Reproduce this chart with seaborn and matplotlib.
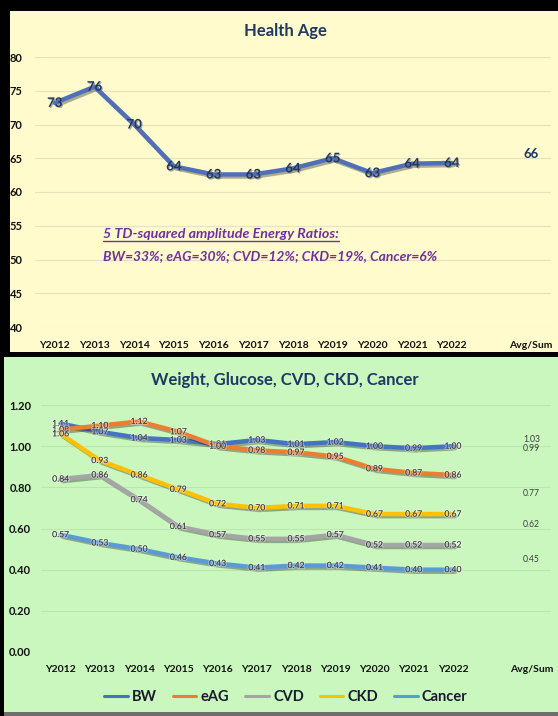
import matplotlib
matplotlib.use("Agg")
import matplotlib.pyplot as plt
import matplotlib.patheffects as pe
from matplotlib.patches import Rectangle
from matplotlib.lines import Line2D
import numpy as np
import pandas as pd
import seaborn as sns

# ---- data -------------------------------------------------------------
years = ["Y2012", "Y2013", "Y2014", "Y2015", "Y2016", "Y2017",
         "Y2018", "Y2019", "Y2020", "Y2021", "Y2022"]
tick_labels = years + ["", "Avg/Sum"]

health_age = [73.2, 75.6, 70.0, 63.8, 62.6, 62.6, 63.5, 65.0, 62.8, 64.2, 64.3]
health_avg = 65.7

bw = [1.11, 1.07, 1.04, 1.03, 1.01, 1.03, 1.01, 1.02, 1.00, 0.99, 1.00]
eag = [1.08, 1.10, 1.12, 1.07, 1.00, 0.98, 0.97, 0.95, 0.89, 0.87, 0.86]
cvd = [0.84, 0.86, 0.74, 0.61, 0.57, 0.55, 0.55, 0.57, 0.52, 0.52, 0.52]
ckd = [1.06, 0.93, 0.86, 0.79, 0.72, 0.70, 0.71, 0.71, 0.67, 0.67, 0.67]
cancer = [0.57, 0.53, 0.50, 0.46, 0.43, 0.41, 0.42, 0.42, 0.41, 0.40, 0.40]

series_names = ["BW", "eAG", "CVD", "CKD", "Cancer"]
series_avgs = [1.03, 0.99, 0.62, 0.77, 0.45]
series_colors = ["#4472C4", "#ED7D31", "#A5A5A5", "#FFC000", "#5B9BD5"]

# ---- style ------------------------------------------------------------
sns.set_theme(style="white")
FONT = ["Lato", "DejaVu Sans"]
plt.rcParams["font.family"] = FONT

W, H = 558, 716
fig = plt.figure(figsize=(W / 100, H / 100), dpi=100, facecolor="black")


def fx(px):
    return px / W


def fy(py):
    return 1 - py / H


def add_panel(x0, y0, x1, y1, color):
    fig.add_artist(Rectangle((fx(x0), fy(y1)), fx(x1) - fx(x0), fy(y0) - fy(y1),
                             transform=fig.transFigure, facecolor=color,
                             edgecolor="none", zorder=0))


def axes_box(left, top, right, bottom):
    return [fx(left), fy(bottom), fx(right) - fx(left), fy(top) - fy(bottom)]


# background panels
add_panel(10, 11, 558, 352, "#FFFBCC")
add_panel(4, 357, 558, 712, "#C9F7BE")
add_panel(4, 712, 558, 716, "#6E6E6E")

NAVY = "#1F3864"
line_shadow = [pe.SimpleLineShadow(offset=(1.5, -1.5), shadow_color="k", alpha=0.35),
               pe.Normal()]


def style_axes(ax, ylim, yticks, yfmt, grid_color):
    ax.set_facecolor("none")
    ax.set_xlim(-0.5, 12.5)
    ax.set_ylim(*ylim)
    ax.set_yticks(yticks)
    ax.set_yticklabels([yfmt.format(v) for v in yticks])
    ax.set_xticks(range(len(tick_labels)))
    ax.set_xticklabels(tick_labels)
    ax.set_xlabel("")
    ax.set_ylabel("")
    for s in ax.spines.values():
        s.set_visible(False)
    ax.grid(axis="y", color=grid_color, linewidth=0.8)
    ax.grid(axis="x", visible=False)
    ax.tick_params(axis="both", length=0, colors="#111111")
    for lab in ax.get_xticklabels():
        lab.set_fontweight("bold")
        lab.set_fontsize(7.5)
    for lab in ax.get_yticklabels():
        lab.set_fontweight("bold")
        lab.set_fontsize(8)


# ---- top: Health Age --------------------------------------------------
ax1 = fig.add_axes(axes_box(35, 57, 551, 327))
df_age = pd.DataFrame({"pos": range(len(years)), "age": health_age})
sns.lineplot(data=df_age, x="pos", y="age", ax=ax1, color="#4F6FB8",
             linewidth=3.2, path_effects=line_shadow, zorder=3)
style_axes(ax1, (40, 80), list(range(40, 81, 5)), "{:.0f}", "#E6E2BE")
ax1.tick_params(axis="x", pad=10)
ax1.tick_params(axis="y", pad=9)

txt_shadow = [pe.withSimplePatchShadow(offset=(0.8, -0.8), shadow_rgbFace="#777777", alpha=0.6)]
for i, v in enumerate(health_age):
    ax1.text(i, v, f"{v:.0f}", ha="center", va="center", fontsize=9.5,
             fontweight="bold", color=NAVY, zorder=5, path_effects=txt_shadow)
ax1.text(12, health_avg, f"{health_avg:.0f}", ha="center", va="center",
         fontsize=9.5, fontweight="bold", color=NAVY, zorder=5)

fig.text(fx(285), fy(31), "Health Age", ha="center", va="center",
         fontsize=12, fontweight="bold", color=NAVY)

PURPLE = "#7030A0"
note1 = fig.text(fx(103), fy(234), "5 TD-squared amplitude Energy Ratios:",
                 ha="left", va="center", fontsize=10.3, fontweight="bold",
                 fontstyle="italic", color=PURPLE)
fig.text(fx(103), fy(256), "BW=33%; eAG=30%; CVD=12%; CKD=19%, Cancer=6%",
         ha="left", va="center", fontsize=10.0, fontweight="bold",
         fontstyle="italic", color=PURPLE)

# ---- bottom: Weight, Glucose, CVD, CKD, Cancer ------------------------
ax2 = fig.add_axes(axes_box(41, 405, 551, 652))
values = [bw, eag, cvd, ckd, cancer]
df_s = pd.DataFrame({
    "pos": list(range(len(years))) * len(series_names),
    "value": [v for ser in values for v in ser],
    "series": [n for n in series_names for _ in years],
})
sns.lineplot(data=df_s, x="pos", y="value", hue="series", hue_order=series_names,
             palette=series_colors, ax=ax2, linewidth=3.2, legend=False,
             path_effects=line_shadow)
style_axes(ax2, (0, 1.2), [0.0, 0.2, 0.4, 0.6, 0.8, 1.0, 1.2], "{:.2f}", "#B9E6AE")
ax2.tick_params(axis="x", pad=9)
ax2.tick_params(axis="y", pad=7)

glow = [pe.withStroke(linewidth=1.6, foreground=(1, 1, 1, 0.35))]
for ser in values:
    for i, v in enumerate(ser):
        ax2.text(i, v, f"{v:.2f}", ha="center", va="center", fontsize=6.2,
                 color="#3F3F3F", zorder=6, path_effects=glow)
for v in series_avgs:
    ax2.text(12, v, f"{v:.2f}", ha="center", va="center", fontsize=6.2,
             color="#3F3F3F", zorder=6)

fig.text(fx(285), fy(380), "Weight, Glucose, CVD, CKD, Cancer", ha="center",
         va="center", fontsize=12, fontweight="bold", color=NAVY)

handles = [Line2D([], [], color=c, linewidth=2.2) for c in series_colors]
leg = fig.legend(handles, series_names, loc="center", ncol=5, frameon=False,
                 bbox_to_anchor=(fx(286), fy(697)), handlelength=1.6,
                 handletextpad=0.3, columnspacing=1.1,
                 prop={"weight": "bold", "size": 10.5, "family": FONT})
for t in leg.get_texts():
    t.set_color("#1A1A2E")

# underline the first note line
fig.canvas.draw()
bb = note1.get_window_extent(fig.canvas.get_renderer())
uy = (bb.y0 - 0.5) / fig.bbox.height
fig.add_artist(Line2D([bb.x0 / fig.bbox.width, bb.x1 / fig.bbox.width], [uy, uy],
                      transform=fig.transFigure, color=PURPLE, linewidth=1.0))

fig.savefig("out.png", dpi=100, facecolor="black")
